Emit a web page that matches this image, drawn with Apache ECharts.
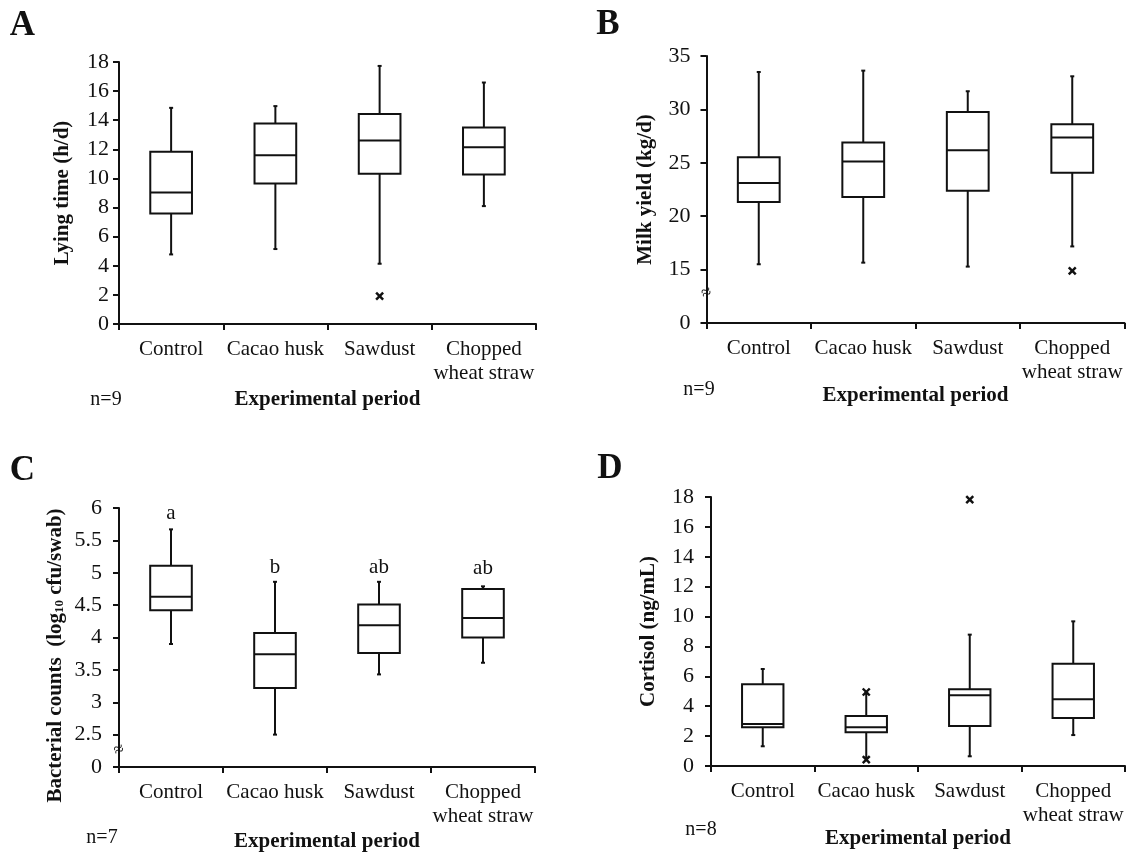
<!DOCTYPE html>
<html><head><meta charset="utf-8">
<script src="https://cdn.jsdelivr.net/npm/echarts@6/dist/echarts.min.js"></script>
<style>html,body{margin:0;padding:0;background:#fff}#c{width:1127px;height:854px}</style>
</head><body><div id="c"></div>
<script>
// ---- data ----
const categories = ['Control', 'Cacao husk', 'Sawdust', 'Chopped\nwheat straw'];
// [lower whisker, Q1, median, Q3, upper whisker]
const lyingTime = [[4.78, 7.6, 9.04, 11.83, 14.85], [5.15, 9.66, 11.6, 13.78, 14.97], [4.14, 10.32, 12.61, 14.42, 17.73], [8.1, 10.27, 12.15, 13.5, 16.59]];
const lyingOutliers = [[2, 1.92]];
const milkYield = [[15.5, 21.34, 23.1, 25.53, 33.5], [15.65, 21.8, 25.12, 26.89, 33.63], [15.28, 22.39, 26.18, 29.75, 31.7], [17.17, 24.07, 27.36, 28.6, 33.1]];
const milkOutliers = [[3, 14.88]];
const bacteria = [[3.9, 4.42, 4.63, 5.11, 5.67], [2.5, 3.22, 3.74, 4.07, 4.86], [3.43, 3.76, 4.19, 4.51, 4.86], [3.61, 4.0, 4.3, 4.75, 4.79]];
const bacteriaOutliers = [];
const bacteriaLetters = ['a', 'b', 'ab', 'ab'];
const bacteriaLetterY = [5.92, 5.08, 5.08, 5.06];
const cortisol = [[1.32, 2.59, 2.81, 5.47, 6.49], [0.55, 2.26, 2.6, 3.35, 4.85], [0.65, 2.68, 4.73, 5.13, 8.79], [2.07, 3.21, 4.46, 6.85, 9.68]];
const cortisolOutliers = [[1, 4.95], [1, 0.42], [2, 17.82]];
const sampleSizes = ['n=9', 'n=9', 'n=7', 'n=8'];
const panelLetters = ['A', 'B', 'C', 'D'];
const yTitles = ['Lying time (h/d)', 'Milk yield (kg/d)', null, 'Cortisol (ng/mL)'];
const xTitle = 'Experimental period';

// ---- styling ----
const FONT = '"Liberation Serif", "Times New Roman", serif';
const INK = '#111';

const grids = [
  { left: 119, top: 62, width: 417, height: 262 },
  { left: 706.5, top: 56, width: 418, height: 267 },
  { left: 119, top: 508, width: 416, height: 259 },
  { left: 711, top: 497, width: 414, height: 269 }
];
const yCfg = [
  { min: 0, max: 18, interval: 2, base: null, nameGap: 46, margin: 10, pad: null },
  { min: 10, max: 35, interval: 5, base: 10, nameGap: 50, margin: 16, pad: null },
  { min: 2, max: 6, interval: 0.5, base: 2, nameGap: 53, margin: 17, pad: [0, 36, 0, 0] },
  { min: 0, max: 18, interval: 2, base: null, nameGap: 52, margin: 17, pad: null }
];
const xNameGaps = [65, 52, 64, 51];

function renderBox(params, api) {
  const i = api.value(0);
  const lo = api.coord([i, api.value(1)]);
  const q1 = api.coord([i, api.value(2)]);
  const md = api.coord([i, api.value(3)]);
  const q3 = api.coord([i, api.value(4)]);
  const hi = api.coord([i, api.value(5)]);
  const bw = api.size([1, 0])[0] * 0.4;
  const cx = lo[0];
  const st = { stroke: INK, lineWidth: 2, fill: null };
  return {
    type: 'group',
    children: [
      { type: 'line', shape: { x1: cx, y1: hi[1], x2: cx, y2: q3[1] }, style: st },
      { type: 'line', shape: { x1: cx, y1: q1[1], x2: cx, y2: lo[1] }, style: st },
      { type: 'line', shape: { x1: cx - 2, y1: hi[1], x2: cx + 2, y2: hi[1] }, style: st },
      { type: 'line', shape: { x1: cx - 2, y1: lo[1], x2: cx + 2, y2: lo[1] }, style: st },
      { type: 'rect', shape: { x: cx - bw / 2, y: q3[1], width: bw, height: q1[1] - q3[1] }, style: { stroke: INK, lineWidth: 2, fill: '#fff' } },
      { type: 'line', shape: { x1: cx - bw / 2, y1: md[1], x2: cx + bw / 2, y2: md[1] }, style: st }
    ]
  };
}
function renderCross(params, api) {
  const p = api.coord([api.value(0), api.value(1)]);
  const s = 3.5;
  const st = { stroke: INK, lineWidth: 2.4 };
  return {
    type: 'group',
    children: [
      { type: 'line', shape: { x1: p[0] - s, y1: p[1] - s, x2: p[0] + s, y2: p[1] + s }, style: st },
      { type: 'line', shape: { x1: p[0] + s, y1: p[1] - s, x2: p[0] - s, y2: p[1] + s }, style: st }
    ]
  };
}
function renderLetter(params, api) {
  const p = api.coord([api.value(0), api.value(1)]);
  return {
    type: 'text', x: p[0], y: p[1],
    style: { text: bacteriaLetters[params.dataIndex], font: '21px ' + FONT, fill: INK, align: 'center', verticalAlign: 'middle' }
  };
}

const boxData = [lyingTime, milkYield, bacteria, cortisol];
const outData = [lyingOutliers, milkOutliers, bacteriaOutliers, cortisolOutliers];

const xAxes = [], yAxes = [], series = [];
for (let k = 0; k < 4; k++) {
  xAxes.push({
    type: 'category', gridIndex: k, data: categories,
    boundaryGap: true,
    name: xTitle, nameLocation: 'middle', nameGap: xNameGaps[k],
    nameTextStyle: { fontFamily: FONT, fontWeight: 'bold', fontSize: 21, color: INK },
    axisLine: { lineStyle: { color: INK, width: 2 } },
    axisTick: { show: true, alignWithLabel: false, length: 6, lineStyle: { color: INK, width: 2 } },
    axisLabel: { fontFamily: FONT, fontSize: 21, color: INK, margin: 13, lineHeight: 24, interval: 0 },
    splitLine: { show: false }
  });
  const c = yCfg[k];
  const y = {
    type: 'value', gridIndex: k, min: c.min, max: c.max, interval: c.interval,
    axisLine: { show: true, lineStyle: { color: INK, width: 2 } },
    axisTick: { show: true, length: 6, lineStyle: { color: INK, width: 2 } },
    axisLabel: {
      fontFamily: FONT, fontSize: 22, color: INK, margin: c.margin,
      formatter: (v) => (c.base !== null && v === c.base) ? '0' : String(v)
    },
    splitLine: { show: false },
    nameLocation: 'middle', nameGap: c.nameGap,
    nameTextStyle: { fontFamily: FONT, fontWeight: 'bold', fontSize: 21, color: INK }
  };
  if (k === 2) {
    y.name = '{t|Bacterial counts  (log}{s|10}{t| cfu/swab)}';
    y.nameTextStyle.padding = c.pad;
    y.nameTextStyle.rich = {
      t: { fontFamily: FONT, fontWeight: 'bold', fontSize: 21, color: INK },
      s: { fontFamily: FONT, fontWeight: 'bold', fontSize: 13, color: INK, verticalAlign: 'bottom' }
    };
  } else {
    y.name = yTitles[k];
  }
  yAxes.push(y);
  series.push({
    type: 'custom', xAxisIndex: k, yAxisIndex: k,
    renderItem: renderBox,
    encode: { x: 0, y: [1, 2, 3, 4, 5] },
    data: boxData[k].map((b, i) => [i].concat(b)),
    z: 3, silent: true
  });
  if (outData[k].length) {
    series.push({
      type: 'custom', xAxisIndex: k, yAxisIndex: k,
      renderItem: renderCross,
      encode: { x: 0, y: 1 },
      data: outData[k],
      z: 4, silent: true
    });
  }
}
series.push({
  type: 'custom', xAxisIndex: 2, yAxisIndex: 2, silent: true,
  renderItem: renderLetter,
  encode: { x: 0, y: 1 },
  data: bacteriaLetterY.map((v, i) => [i, v]),
  z: 5
});

const graphic = [];
const letterPos = [[22.5, 26], [608, 25], [22.5, 471], [610, 469]];
panelLetters.forEach((t, k) => graphic.push({
  type: 'text', x: letterPos[k][0], y: letterPos[k][1],
  style: { text: t, font: 'bold 35px ' + FONT, fill: INK, align: 'center', verticalAlign: 'middle' }
}));
const nPos = [[106, 400], [699, 390], [102, 838], [701, 830]];
sampleSizes.forEach((t, k) => graphic.push({
  type: 'text', x: nPos[k][0], y: nPos[k][1],
  style: { text: t, font: '20px ' + FONT, fill: INK, align: 'center', verticalAlign: 'middle' }
}));
// axis-break marks
[[706.5, 293], [119, 750]].forEach(p => graphic.push({
  type: 'text', x: p[0], y: p[1], rotation: 0.35, z: 10,
  style: { text: '\u2248', font: '18px ' + FONT, fill: INK, align: 'center', verticalAlign: 'middle' }
}));

const chart = echarts.init(document.getElementById('c'), null, { renderer: 'canvas' });
chart.setOption({
  backgroundColor: '#fff',
  animation: false,
  grid: grids.map(g => Object.assign({ containLabel: false }, g)),
  xAxis: xAxes,
  yAxis: yAxes,
  series: series,
  graphic: graphic
});
</script>
</body></html>
